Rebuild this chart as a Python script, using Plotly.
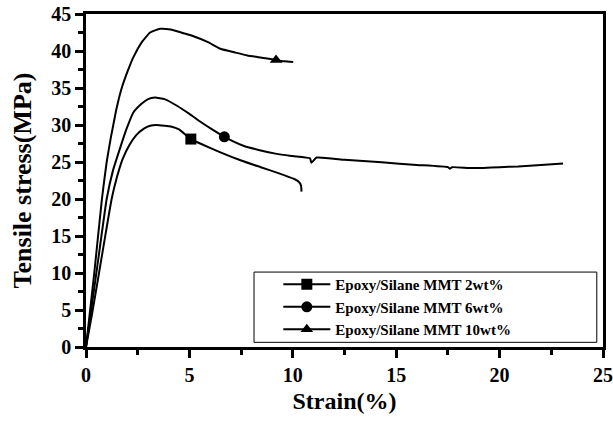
import plotly.graph_objects as go

# ---- data ----
names = ["Epoxy/Silane MMT 2wt%", "Epoxy/Silane MMT 6wt%", "Epoxy/Silane MMT 10wt%"]
symbols = ["square", "circle", "triangle-up"]

strain_2 = [0, 0.3, 0.6, 0.9, 1.24, 1.5, 1.77, 2.1, 2.42, 2.8, 3.1, 3.4, 3.8, 4.1, 4.5,
            5.07, 5.6, 6.5, 7.5, 8.45, 9.3, 10.07, 10.3, 10.4, 10.42]
stress_2 = [0, 4.6, 9.5, 14.5, 20.0, 23.0, 25.4, 27.3, 28.6, 29.5, 29.9, 30.0, 29.9, 29.8, 29.4,
            28.1, 27.4, 26.3, 25.2, 24.3, 23.5, 22.7, 22.3, 21.8, 21.0]

strain_6 = [0, 0.3, 0.6, 1.0, 1.3, 1.64, 1.95, 2.29, 2.7, 3.0, 3.34, 3.8, 4.4, 5.0, 5.55, 6.1,
            6.69, 7.61, 8.4, 9.22, 10.0, 10.83, 10.9, 11.15, 12.5, 14.3, 16.0, 17.5, 17.6, 17.7,
            18.5, 19.2, 20.0, 20.9, 22.0, 23.07]
stress_6 = [0, 6.0, 12.0, 20.0, 23.8, 26.8, 29.4, 31.7, 32.9, 33.5, 33.7, 33.5, 32.6, 31.5, 30.4, 29.4,
            28.4, 27.2, 26.6, 26.1, 25.8, 25.5, 24.9, 25.6, 25.3, 24.95, 24.6, 24.3, 24.1, 24.3,
            24.2, 24.2, 24.3, 24.4, 24.6, 24.8]

strain_10 = [0, 0.4, 0.77, 1.0, 1.2, 1.32, 1.45, 1.6, 1.75, 1.95, 2.1, 2.3, 2.7, 3.1, 3.58, 4.1, 4.6,
             5.2, 5.9, 6.5, 7.2, 7.8, 8.5, 9.19, 9.6, 10.02]
stress_10 = [0, 10.0, 20.0, 25.0, 28.3, 30.0, 31.9, 33.7, 35.2, 36.8, 37.9, 39.2, 41.2, 42.5, 43.0, 42.9, 42.5,
             42.0, 41.2, 40.3, 39.8, 39.4, 39.1, 38.8, 38.6, 38.5]

# one marker per curve
marker_x = [5.07, 6.69, 9.19]
marker_y = [28.1, 28.4, 38.8]

x_ticks = [0, 5, 10, 15, 20, 25]
y_ticks = [0, 5, 10, 15, 20, 25, 30, 35, 40, 45]

curves = [(strain_2, stress_2), (strain_6, stress_6), (strain_10, stress_10)]

FONT = "Liberation Serif"
fig = go.Figure()

for (xs, ys) in curves:
    fig.add_trace(go.Scatter(x=xs, y=ys, mode="lines", showlegend=False,
                             line=dict(color="black", width=2, shape="spline", smoothing=0.4)))

for i in range(3):
    fig.add_trace(go.Scatter(x=[marker_x[i]], y=[marker_y[i]], mode="lines+markers", name=names[i],
                             line=dict(color="black", width=2),
                             marker=dict(symbol=symbols[i], size=11, color="black")))

axis_common = dict(showline=True, linecolor="black", linewidth=2.5, mirror=True,
                   ticks="outside", ticklen=8, tickwidth=2.5, tickcolor="black",
                   showgrid=False, zeroline=False, automargin=False,
                   tickfont=dict(family=FONT, size=20, color="black", weight="bold"))

fig.update_xaxes(range=[0, 25], tickvals=x_ticks, ticktext=[str(v) for v in x_ticks],
                 minor=dict(dtick=2.5, tick0=0, ticks="outside", ticklen=5, tickwidth=2.5, tickcolor="black"),
                 title=dict(text="<b>Strain(%)</b>", font=dict(family=FONT, size=24, color="black"), standoff=8),
                 **axis_common)
fig.update_yaxes(range=[0, 45], tickvals=y_ticks, ticktext=[str(v) for v in y_ticks],
                 minor=dict(dtick=2.5, tick0=0, ticks="outside", ticklen=5, tickwidth=2.5, tickcolor="black"),
                 title=dict(text="<b>Tensile stress(MPa)</b>", font=dict(family=FONT, size=26, color="black"), standoff=13),
                 **axis_common)

# legend frame
fig.add_shape(type="rect", xref="paper", yref="paper", x0=0.325, x1=0.988, y0=0.014, y1=0.225,
              line=dict(color="black", width=1), fillcolor="rgba(0,0,0,0)")

fig.update_layout(
    width=613, height=421,
    margin=dict(l=86, r=10, t=14, b=74),
    plot_bgcolor="white", paper_bgcolor="white",
    legend=dict(x=0.372, y=0.237, xanchor="left", yanchor="top", bgcolor="rgba(0,0,0,0)",
                borderwidth=0, itemwidth=47,
                font=dict(family=FONT, size=15, color="black", weight="bold")),
)

fig.write_html("out.html", config={"displayModeBar": False},
               post_script="document.body.style.margin='0';")
